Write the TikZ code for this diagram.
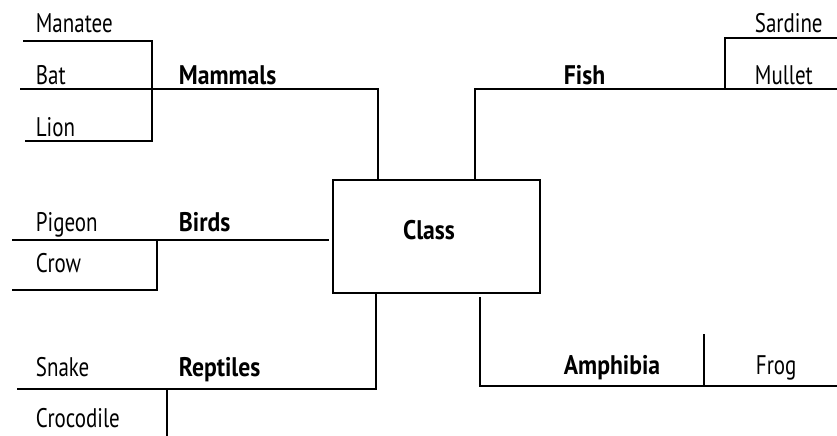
\documentclass[tikz,border=0pt]{standalone}
\usepackage{fontspec}
\setmainfont[FakeStretch=0.78,BoldFeatures={FakeStretch=0.88}]{PT Sans}
\usetikzlibrary{positioning}

\begin{document}
\begin{tikzpicture}[x=1bp,y=-1bp,line width=1.8bp,
    leaf/.style={anchor=base west,inner sep=0pt,font=\fontsize{27}{29}\selectfont},
    group/.style={leaf,font=\fontsize{27}{29}\selectfont\bfseries},
    classbox/.style={draw,minimum width=207bp,minimum height=113bp}]
  \useasboundingbox (0,0) rectangle (837,436);

  % central box
  \node[classbox] (class) at (436.5,236.5) {};
  \node[group,anchor=center] (classlbl) at (429,230) {Class};

  % labels
  \node[leaf] (manatee) at (35,33) {Manatee};
  \node[leaf] (bat) at (35,85) {Bat};
  \node[leaf] (lion) at (35,137) {Lion};
  \node[group] (mammals) at (178,85) {Mammals};
  \node[leaf] (pigeon) at (35,232) {Pigeon};
  \node[leaf] (crow) at (35,273) {Crow};
  \node[group] (birds) at (178,232) {Birds};
  \node[leaf] (snake) at (35,377) {Snake};
  \node[leaf] (crocodile) at (35,427) {Crocodile};
  \node[group] (reptiles) at (178,377) {Reptiles};
  \node[group] (fish) at (563,85) {Fish};
  \node[leaf] (sardine) at (754,33) {Sardine};
  \node[leaf] (mullet) at (754,85) {Mullet};
  \node[group] (amphibia) at (563,375) {Amphibia};
  \node[leaf] (frog) at (755,375) {Frog};

  % junctions
  \coordinate (mamj) at (152,89);
  \coordinate (birj) at (157,240);
  \coordinate (repj) at (167,389);
  \coordinate (fisj) at (725,89);
  \coordinate (amphj) at (704,386);

  % mammals
  \draw (23,41) -- (mamj |- 0,41) -- (mamj |- 0,141) -- (25,141);
  \draw (20,89) -- (378,89) -- (378,0 |- class.north);
  % birds
  \draw (12,240) -- ([xshift=-3bp]class.west |- birj);
  \draw (birj) -- (birj |- 0,290) -- (12,290);
  % reptiles
  \draw (376,0 |- class.south) -- (376,389) -- (17,389);
  \draw (repj) -- (167,436);
  % fish
  \draw (475,0 |- class.north) -- (475,89) -- (837,89);
  \draw (fisj) -- (725,38) -- (837,38);
  % amphibia
  \draw ([yshift=-3bp]480,0 |- class.south) -- (480,386) -- (837,386);
  \draw (amphj) -- (704,334);
\end{tikzpicture}
\end{document}
